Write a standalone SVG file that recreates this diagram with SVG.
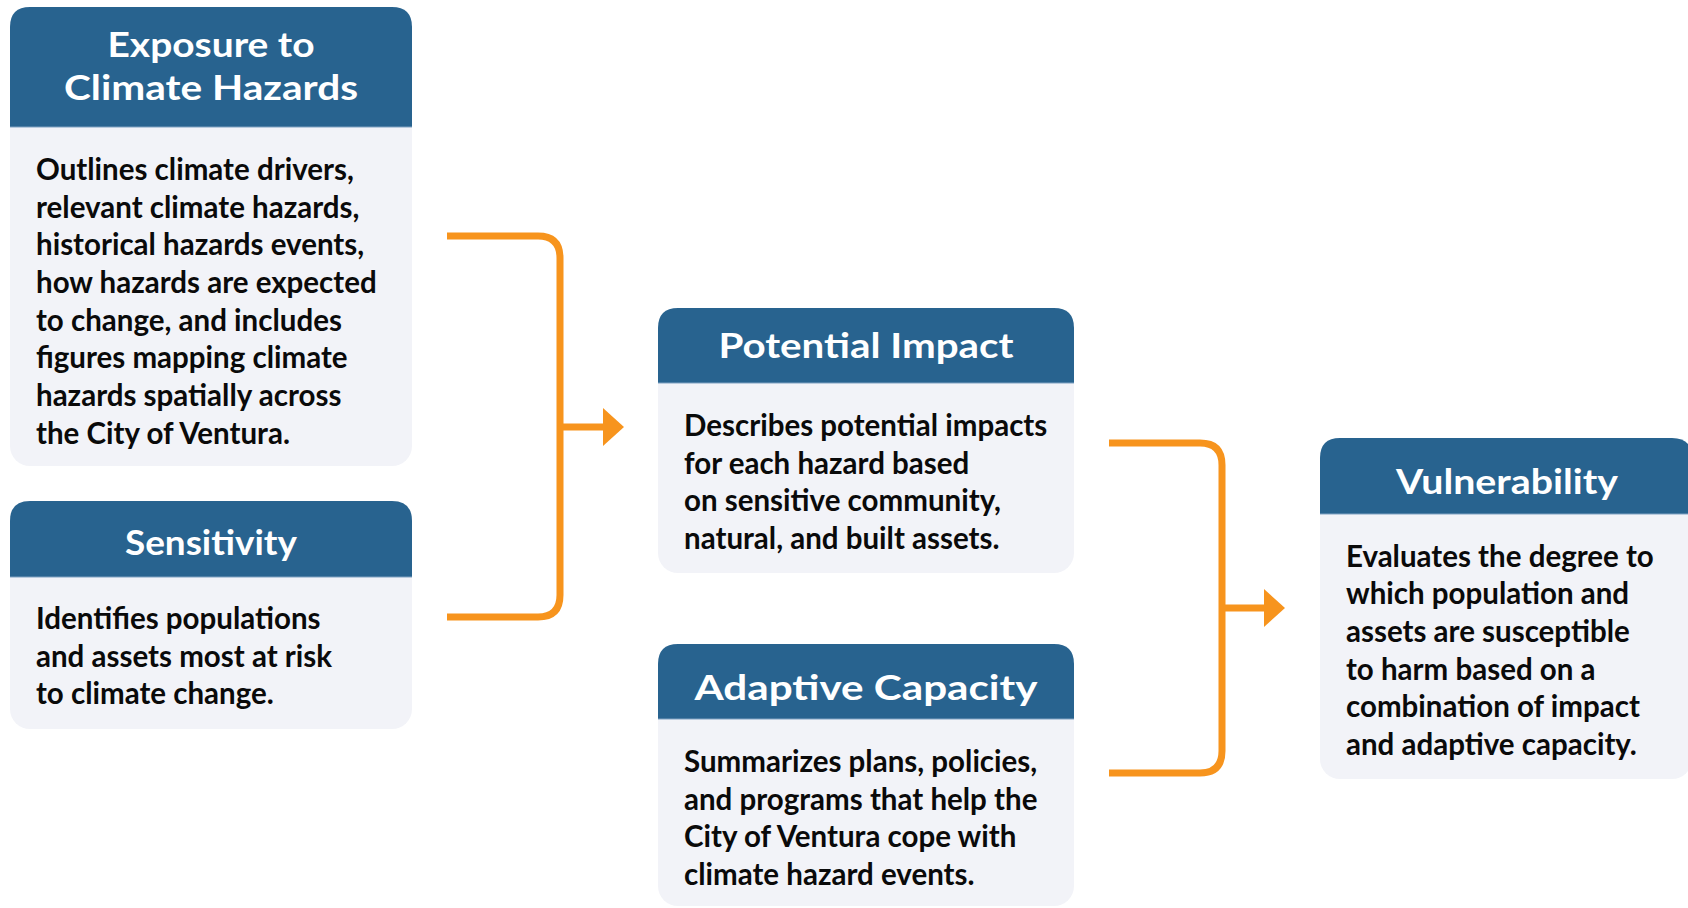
<svg xmlns="http://www.w3.org/2000/svg" width="1688" height="908" viewBox="0 0 1688 908">
<style>
.body{fill:#f2f3f8}
.head{fill:#28638f}
.sep{stroke:#7fa2c2;stroke-width:1.2}
.title{font-family:Lato,"DejaVu Sans",sans-serif;font-weight:700;font-size:35px;fill:#ffffff;text-anchor:middle}
.txt{font-family:Lato,"Open Sans",sans-serif;font-weight:700;font-size:29.5px;fill:#0a0a0a}
.conn{fill:none;stroke:#f7941d;stroke-width:7}
.head-arrow{fill:#f7941d}
</style>
<rect width="1688" height="908" fill="#ffffff"/>
<g id="connectors">
  <path class="conn" d="M447 236 H538 Q560 236 560 258 V595 Q560 617 538 617 H447"/>
  <path class="conn" d="M560 427 H605"/>
  <polygon class="head-arrow" points="603,408 624,427 603,446"/>
  <path class="conn" d="M1109 443 H1200 Q1222 443 1222 465 V751 Q1222 773 1200 773 H1109"/>
  <path class="conn" d="M1222 608 H1266"/>
  <polygon class="head-arrow" points="1264,589 1285,608 1264,627"/>
</g>
<g id="exposure">
  <rect class="body" x="10" y="7" width="402" height="459" rx="20"/>
  <path class="head" d="M10 127 V27 Q10 7 30 7 H392 Q412 7 412 27 V127 Z"/>
  <line class="sep" x1="10" y1="127" x2="412" y2="127"/>
  <text class="title" x="211" y="57" textLength="207" lengthAdjust="spacingAndGlyphs">Exposure to</text>
  <text class="title" x="211" y="100" textLength="294" lengthAdjust="spacingAndGlyphs">Climate Hazards</text>
  <text class="txt" x="36" y="180">Outlines climate drivers,</text>
  <text class="txt" x="36" y="218">relevant climate hazards,</text>
  <text class="txt" x="36" y="255">historical hazards events,</text>
  <text class="txt" x="36" y="293">how hazards are expected</text>
  <text class="txt" x="36" y="331">to change, and includes</text>
  <text class="txt" x="36" y="368">figures mapping climate</text>
  <text class="txt" x="36" y="406">hazards spatially across</text>
  <text class="txt" x="36" y="444">the City of Ventura.</text>
</g>
<g id="sensitivity">
  <rect class="body" x="10" y="501" width="402" height="228" rx="20"/>
  <path class="head" d="M10 577 V521 Q10 501 30 501 H392 Q412 501 412 521 V577 Z"/>
  <line class="sep" x1="10" y1="577" x2="412" y2="577"/>
  <text class="title" x="211" y="555" textLength="172" lengthAdjust="spacingAndGlyphs">Sensitivity</text>
  <text class="txt" x="36" y="629">Identifies populations</text>
  <text class="txt" x="36" y="667">and assets most at risk</text>
  <text class="txt" x="36" y="704">to climate change.</text>
</g>
<g id="potential-impact">
  <rect class="body" x="658" y="308" width="416" height="265" rx="20"/>
  <path class="head" d="M658 383 V328 Q658 308 678 308 H1054 Q1074 308 1074 328 V383 Z"/>
  <line class="sep" x1="658" y1="383" x2="1074" y2="383"/>
  <text class="title" x="866" y="358" textLength="295" lengthAdjust="spacingAndGlyphs">Potential Impact</text>
  <text class="txt" x="684" y="436">Describes potential impacts</text>
  <text class="txt" x="684" y="474">for each hazard based</text>
  <text class="txt" x="684" y="511">on sensitive community,</text>
  <text class="txt" x="684" y="549">natural, and built assets.</text>
</g>
<g id="adaptive-capacity">
  <rect class="body" x="658" y="644" width="416" height="262" rx="20"/>
  <path class="head" d="M658 719 V664 Q658 644 678 644 H1054 Q1074 644 1074 664 V719 Z"/>
  <line class="sep" x1="658" y1="719" x2="1074" y2="719"/>
  <text class="title" x="866" y="700" textLength="343" lengthAdjust="spacingAndGlyphs">Adaptive Capacity</text>
  <text class="txt" x="684" y="772">Summarizes plans, policies,</text>
  <text class="txt" x="684" y="810">and programs that help the</text>
  <text class="txt" x="684" y="847">City of Ventura cope with</text>
  <text class="txt" x="684" y="885">climate hazard events.</text>
</g>
<g id="vulnerability">
  <rect class="body" x="1320" y="438" width="372" height="341" rx="20"/>
  <path class="head" d="M1320 514 V458 Q1320 438 1340 438 H1672 Q1692 438 1692 458 V514 Z"/>
  <line class="sep" x1="1320" y1="514" x2="1692" y2="514"/>
  <text class="title" x="1507" y="494" textLength="222" lengthAdjust="spacingAndGlyphs">Vulnerability</text>
  <text class="txt" x="1346" y="567">Evaluates the degree to</text>
  <text class="txt" x="1346" y="604">which population and</text>
  <text class="txt" x="1346" y="642">assets are susceptible</text>
  <text class="txt" x="1346" y="680">to harm based on a</text>
  <text class="txt" x="1346" y="717">combination of impact</text>
  <text class="txt" x="1346" y="755">and adaptive capacity.</text>
</g>
</svg>
